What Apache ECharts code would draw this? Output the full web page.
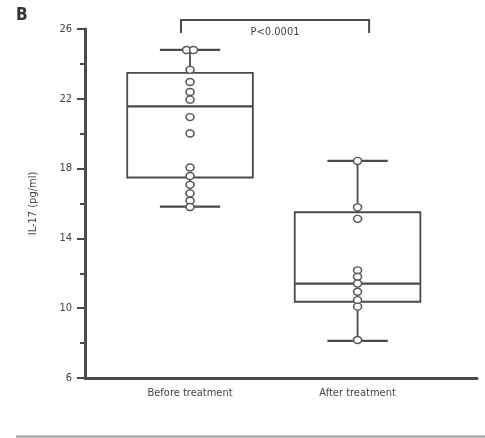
<!DOCTYPE html>
<html><head><meta charset="utf-8">
<script src="https://cdn.jsdelivr.net/npm/echarts@6/dist/echarts.min.js"></script>
<style>html,body{margin:0;padding:0;background:#fff}#c{width:485px;height:438px}</style>
</head><body><div id="c"></div>
<script>
// ---- data ----
const categories = ['Before treatment', 'After treatment'];
// [min, Q1, median, Q3, max]
const beforeBox = [15.82, 17.49, 21.57, 23.48, 24.80];
const afterBox  = [8.13, 10.37, 11.41, 15.50, 18.44];
const beforePoints = [24.80, 24.80, 23.66, 22.96, 22.39, 21.95, 20.95, 20.01, 18.06, 17.58, 17.07, 16.58, 16.16, 15.80];
const afterPoints  = [18.44, 15.78, 15.12, 12.17, 11.80, 11.41, 10.94, 10.46, 10.09, 8.18];
const yTicks = [6, 10, 14, 18, 22, 26];
const pText = 'P<0.0001';
const yTitle = 'IL-17 (pg/ml)';
const panelLabel = 'B';

const FONT = '"Liberation Sans Narrow", "DejaVu Sans Condensed", "Liberation Sans", sans-serif';
const LINE = '#4a4a4a';
const boxes = [beforeBox, afterBox];

function pointsData(vals, xi) {
  const seen = {};
  return vals.map(v => {
    const k = v.toFixed(2);
    const n = vals.filter(u => u.toFixed(2) === k).length;
    seen[k] = (seen[k] || 0) + 1;
    const off = n > 1 ? (seen[k] - (n + 1) / 2) * 7 : 0;
    return { value: [xi, v], symbolOffset: [off, 0] };
  });
}

const chart = echarts.init(document.getElementById('c'), null, { renderer: 'canvas' });
chart.setOption({
  animation: false,
  backgroundColor: '#fff',
  grid: { left: 85, right: 8, top: 29, bottom: 60 },
  xAxis: {
    type: 'value', min: 0.373, max: 2.713,
    splitLine: { show: false },
    axisLine: { show: true, lineStyle: { color: LINE, width: 3 } },
    axisTick: { show: false },
    axisLabel: {
      customValues: [1, 2],
      formatter: v => categories[Math.round(v) - 1] || '',
      color: '#444', fontFamily: FONT, fontSize: 11, margin: 10
    }
  },
  yAxis: {
    type: 'value', min: 6, max: 26, interval: 4,
    name: yTitle, nameLocation: 'middle', nameGap: 46, nameRotate: 90,
    nameTextStyle: { color: '#444', fontFamily: FONT, fontSize: 11 },
    splitLine: { show: false },
    axisLine: { show: true, lineStyle: { color: LINE, width: 3 } },
    axisTick: { show: true, inside: false, length: 8, lineStyle: { color: LINE, width: 2 } },
    minorTick: { show: true, splitNumber: 2, length: 5, lineStyle: { color: LINE, width: 2 } },
    axisLabel: { color: '#444', fontFamily: FONT, fontSize: 11, margin: 13,
      formatter: v => yTicks.includes(v) ? String(v) : '' }
  },
  graphic: [
    { type: 'text', left: 16, top: 7, style: { text: panelLabel, font: 'bold 17px ' + FONT, fill: '#333' } },
    { type: 'line', shape: { x1: 16, y1: 436.5, x2: 485, y2: 436.5 }, style: { stroke: '#999', lineWidth: 2 } }
  ],
  series: [
    {
      type: 'custom', name: 'box', clip: false, z: 2,
      data: boxes.map((b, i) => [i + 1].concat(b)),
      renderItem: function (params, api) {
        const x = api.value(0);
        const mn = api.value(1), q1 = api.value(2), md = api.value(3), q3 = api.value(4), mx = api.value(5);
        const halfBox = 0.375, halfCap = 0.18;
        const p = (xx, yy) => api.coord([xx, yy]);
        const st = { stroke: LINE, lineWidth: 1.8, fill: 'none' };
        const tl = p(x - halfBox, q3), br = p(x + halfBox, q1);
        const line = (a, b, w) => ({ type: 'line', shape: { x1: a[0], y1: a[1], x2: b[0], y2: b[1] }, style: Object.assign({}, st, { lineWidth: w || 1.8 }) });
        return {
          type: 'group', children: [
            { type: 'rect', shape: { x: tl[0], y: tl[1], width: br[0] - tl[0], height: br[1] - tl[1] }, style: st },
            line(p(x - halfBox, md), p(x + halfBox, md), 2.2),
            line(p(x, q3), p(x, mx)),
            line(p(x, q1), p(x, mn)),
            line(p(x - halfCap, mx), p(x + halfCap, mx), 2.2),
            line(p(x - halfCap, mn), p(x + halfCap, mn), 2.2)
          ]
        };
      }
    },
    {
      type: 'scatter', name: 'Before', z: 3,
      symbol: 'circle', symbolSize: [8, 7],
      itemStyle: { color: '#fff', borderColor: '#585858', borderWidth: 1.5, opacity: 1 },
      data: pointsData(beforePoints, 1)
    },
    {
      type: 'scatter', name: 'After', z: 3,
      symbol: 'circle', symbolSize: [8, 7],
      itemStyle: { color: '#fff', borderColor: '#585858', borderWidth: 1.5, opacity: 1 },
      data: pointsData(afterPoints, 2)
    },
    {
      type: 'custom', name: 'bracket', clip: false, z: 4,
      data: [[1, 2]],
      renderItem: function (params, api) {
        const a = api.coord([0.946, 26.51]);
        const b = api.coord([2.069, 26.51]);
        const legBottom = api.coord([0, 25.77])[1];
        return {
          type: 'group', children: [
            { type: 'polyline', shape: { points: [[a[0], legBottom], a, b, [b[0], legBottom]] },
              style: { stroke: LINE, lineWidth: 2, fill: 'none' } },
            { type: 'text', x: (a[0] + b[0]) / 2, y: a[1] + 7,
              style: { text: pText, fill: '#444', font: '11px ' + FONT, align: 'center', verticalAlign: 'top' } }
          ]
        };
      }
    }
  ]
});
</script>
</body></html>
